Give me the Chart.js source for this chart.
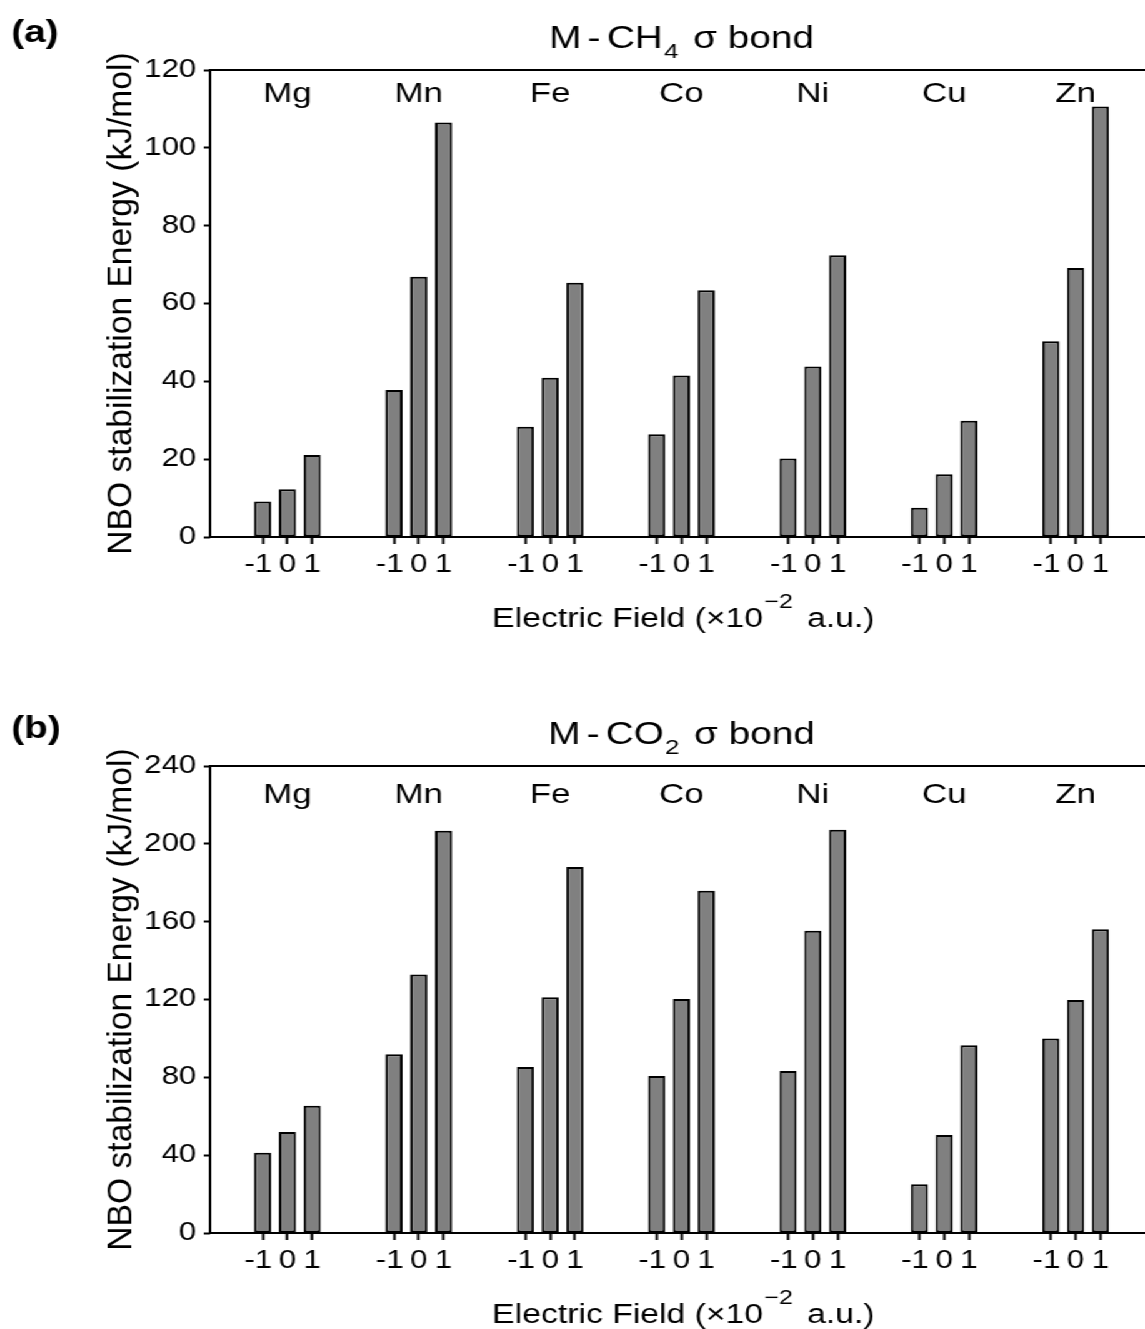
<!DOCTYPE html>
<html>
<head>
<meta charset="utf-8">
<script src="https://cdn.jsdelivr.net/npm/chart.js@4.4.1/dist/chart.umd.min.js"></script>
<style>
html,body{margin:0;padding:0;overflow:hidden;background:#fff;width:1145px;height:1329px;}
#stage{position:absolute;left:0;top:0;width:936px;height:1329px;transform:scaleX(1.25);transform-origin:0 0;}
#stage canvas{position:absolute;left:0;}
</style>
</head>
<body>
<div id="stage">
  <canvas id="chartA" width="936" height="633" style="top:0px"></canvas>
  <canvas id="chartB" width="936" height="633" style="top:696px"></canvas>
</div>
<script>
// ---------------- DATA ----------------
const metals = ['Mg', 'Mn', 'Fe', 'Co', 'Ni', 'Cu', 'Zn'];
const fieldValues = [-1, 0, 1];
const fieldTickLabels = ['-1', '0', '1'];

// (a) M–CH4 σ bond, NBO stabilization energy (kJ/mol)
const ch4FieldMinus1 = [9.1, 37.8, 28.3, 26.4, 20.2, 7.5, 50.3];
const ch4Field0      = [12.3, 66.9, 40.9, 41.5, 43.8, 16.1, 69.1];
const ch4FieldPlus1  = [21.1, 106.5, 65.3, 63.4, 72.4, 29.9, 110.6];
const ch4YTicks = [0, 20, 40, 60, 80, 100, 120];

// (b) M–CO2 σ bond, NBO stabilization energy (kJ/mol)
const co2FieldMinus1 = [41.3, 91.8, 85.3, 80.7, 83.2, 25.0, 100.0];
const co2Field0      = [51.9, 132.9, 121.1, 120.2, 155.3, 50.4, 119.7];
const co2FieldPlus1  = [65.4, 206.7, 188.1, 175.9, 207.2, 96.5, 156.1];
const co2YTicks = [0, 40, 80, 120, 160, 200, 240];

// ---------------- LAYOUT ----------------
const FONT = "'Liberation Sans', Arial, Helvetica, sans-serif";
const groupSpacing = 5.3;      // x-units between metal groups
const xMin = -3.12;
const xMax = 6 * groupSpacing + 3.12;

function fnt(size, bold) { return (bold ? 'bold ' : '') + size + 'px ' + FONT; }

function drawSegments(ctx, segs, x, y, align) {
  let total = 0;
  segs.forEach(s => { ctx.font = fnt(s.size); total += (s.gap || 0) + ctx.measureText(s.text).width; });
  let cx = align === 'center' ? x - total / 2 : x;
  ctx.textAlign = 'left';
  ctx.textBaseline = 'alphabetic';
  segs.forEach(s => {
    ctx.font = fnt(s.size);
    cx += (s.gap || 0);
    ctx.fillText(s.text, cx, y + (s.dy || 0));
    cx += ctx.measureText(s.text).width;
  });
}

function decorPlugin(cfg) {
  return {
    id: 'decor' + cfg.id,
    afterDraw(chart) {
      const ctx = chart.ctx;
      const a = chart.chartArea;
      const xs = chart.scales.x;
      const cx = (a.left + a.right) / 2;
      ctx.save();
      // frame (spines)
      ctx.strokeStyle = '#000';
      ctx.lineWidth = 2;
      ctx.strokeRect(a.left, a.top, a.right - a.left, a.bottom - a.top);
      ctx.fillStyle = '#000';
      // panel letter
      ctx.font = fnt(31, true);
      ctx.textAlign = 'left';
      ctx.textBaseline = 'alphabetic';
      ctx.fillText(cfg.panel, 9, 42);
      // title with subscript
      drawSegments(ctx, cfg.titleSegs, cx, 48, 'center');
      // metal labels inside the plot
      ctx.font = fnt(28);
      ctx.textAlign = 'center';
      metals.forEach((m, i) => {
        ctx.fillText(m, xs.getPixelForValue(i * groupSpacing), a.top + cfg.labelOffset);
      });
      // x-axis title with superscript
      drawSegments(ctx, [
        {text: 'Electric Field (×10', size: 27},
        {text: '−2', size: 20, dy: -19, gap: 1},
        {text: ' a.u.)', size: 27, gap: 4}
      ], cx + 1.5, 627, 'center');
      // y-axis title
      ctx.save();
      ctx.translate(97, (a.top + a.bottom) / 2);
      ctx.rotate(-Math.PI / 2);
      ctx.scale(1.2, 1);
      ctx.font = fnt(28);
      ctx.textAlign = 'center';
      ctx.textBaseline = 'middle';
      ctx.fillText('NBO stabilization Energy (kJ/mol)', 0, 0);
      ctx.restore();
      ctx.restore();
    }
  };
}

function makeChart(cfg) {
  const points = [];
  metals.forEach((m, i) => {
    cfg.series.forEach((vals, j) => {
      points.push({x: i * groupSpacing + fieldValues[j], y: vals[i]});
    });
  });
  const xTickValues = [];
  metals.forEach((m, i) => fieldValues.forEach(f => xTickValues.push(i * groupSpacing + f)));

  return new Chart(document.getElementById(cfg.canvas), {
    type: 'bar',
    data: {
      datasets: [{
        data: points,
        backgroundColor: '#808080',
        borderColor: '#000',
        borderWidth: 2,
        borderSkipped: false,
        barPercentage: 0.69,
        categoryPercentage: 1.0
      }]
    },
    options: {
      responsive: false,
      animation: false,
      devicePixelRatio: 1,
      layout: {padding: {left: 0, right: 13.6, top: 70, bottom: 0}},
      plugins: {legend: {display: false}, tooltip: {enabled: false}, title: {display: false}},
      scales: {
        x: {
          type: 'linear',
          min: xMin,
          max: xMax,
          offset: false,
          afterBuildTicks: s => { s.ticks = xTickValues.map(v => ({value: v})); },
          afterFit: s => { s.height = 96; },
          ticks: {
            autoSkip: false, maxRotation: 0, minRotation: 0, padding: 6,
            color: '#000', font: {family: FONT, size: 25},
            // a trailing space keeps the negative label visually left of its tick, as in the source
            callback: (v, i) => fieldTickLabels[i % 3] + (fieldValues[i % 3] < 0 ? ' ' : '')
          },
          grid: {display: true, offset: false, drawOnChartArea: false, drawTicks: true,
                 tickLength: 7, tickWidth: 2, tickColor: '#000'},
          border: {display: false}
        },
        y: {
          min: 0,
          max: cfg.yTicks[cfg.yTicks.length - 1],
          afterBuildTicks: s => { s.ticks = cfg.yTicks.map(v => ({value: v})); },
          afterFit: s => { s.width = 168; },
          ticks: {padding: 6, color: '#000', font: {family: FONT, size: 25}, callback: v => String(v)},
          grid: {display: true, drawOnChartArea: false, drawTicks: true,
                 tickLength: 5, tickWidth: 2, tickColor: '#000'},
          border: {display: false}
        }
      }
    },
    plugins: [decorPlugin(cfg)]
  });
}

makeChart({
  id: 'A', canvas: 'chartA', panel: '(a)',
  series: [ch4FieldMinus1, ch4Field0, ch4FieldPlus1],
  yTicks: ch4YTicks,
  labelOffset: 31.7,
  titleSegs: [
    {text: 'M', size: 31},
    {text: '-', size: 31, gap: 5},
    {text: 'CH', size: 31, gap: 5},
    {text: '4', size: 21, dy: 10, gap: 1},
    {text: ' σ bond', size: 31, gap: 3}
  ]
});

makeChart({
  id: 'B', canvas: 'chartB', panel: '(b)',
  series: [co2FieldMinus1, co2Field0, co2FieldPlus1],
  yTicks: co2YTicks,
  labelOffset: 37,
  titleSegs: [
    {text: 'M', size: 31},
    {text: '-', size: 31, gap: 5},
    {text: 'CO', size: 31, gap: 5},
    {text: '2', size: 21, dy: 10, gap: 1},
    {text: ' σ bond', size: 31, gap: 3}
  ]
});
</script>
</body>
</html>
